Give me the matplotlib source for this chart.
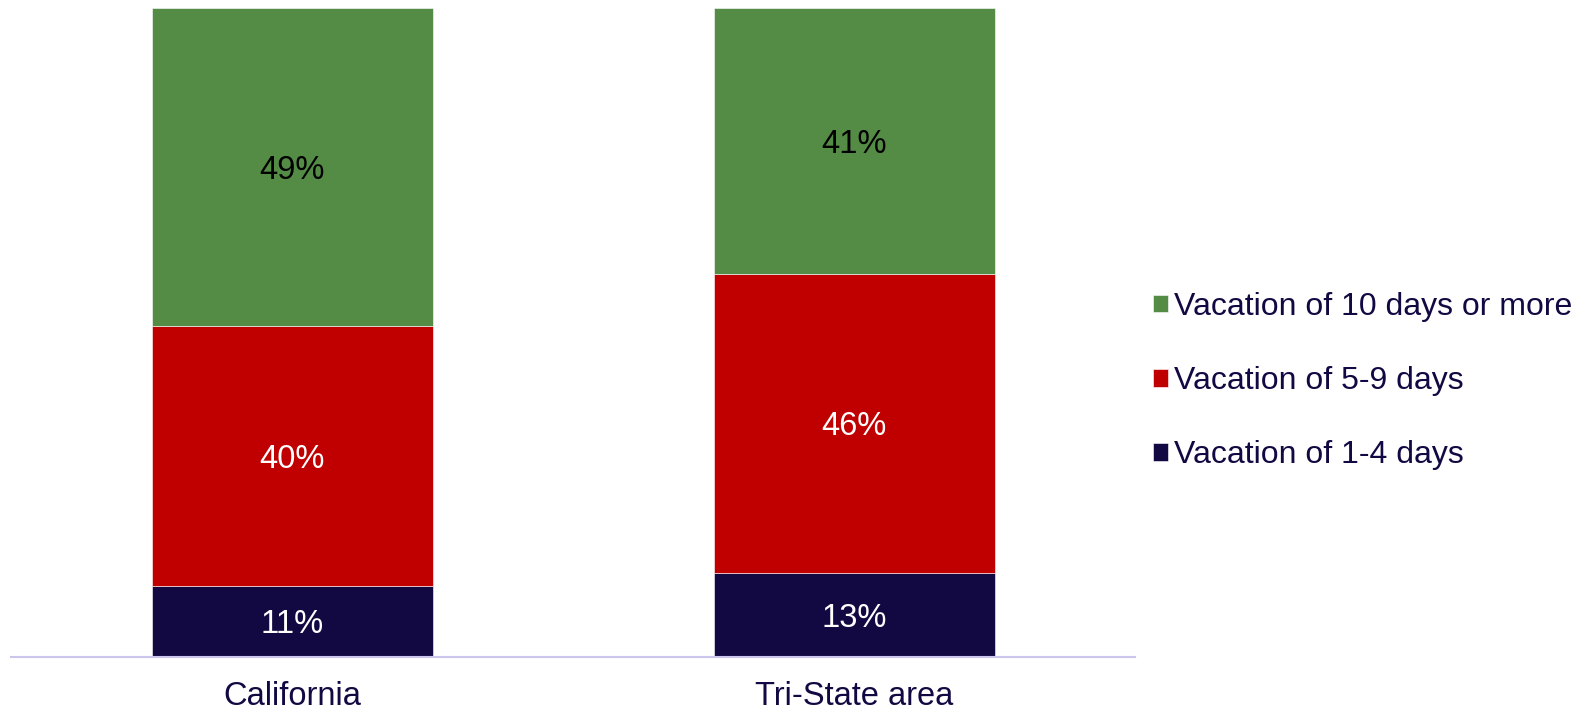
import numpy as np
import matplotlib.pyplot as plt

plt.rcParams['font.family'] = ['Liberation Sans', 'DejaVu Sans']

# ---------------- data ----------------
regions = ["California", "Tri-State area"]
short_trip = [11, 13]    # Vacation of 1-4 days
mid_trip = [40, 46]      # Vacation of 5-9 days
long_trip = [49, 41]     # Vacation of 10 days or more

series = [
    ("Vacation of 1-4 days", short_trip, "#130942", "white"),
    ("Vacation of 5-9 days", mid_trip, "#C00000", "white"),
    ("Vacation of 10 days or more", long_trip, "#548B45", "black"),
]
text_col = "#130942"

fig = plt.figure(figsize=(15.92, 7.10), dpi=100)
W, H = 1592, 710
ax = fig.add_axes([11 / W, 1 - 657 / H, 1124 / W, 649 / H])

x = np.arange(len(regions))
bottom = np.zeros(len(regions))
handles = []
for name, vals, col, tcol in series:
    vals = np.asarray(vals, float)
    b = ax.bar(x, vals, width=0.5, bottom=bottom, color=col, label=name,
               edgecolor="white", linewidth=0.4)
    handles.append(b)
    for xi, v, b0 in zip(x, vals, bottom):
        ax.text(xi, b0 + v / 2, f"{int(v)}%", ha="center", va="center_baseline",
                fontsize=23.5, color=tcol)
    bottom += vals

ax.set_xlim(-0.5, 1.5)
ax.set_ylim(0, 100)
ax.set_xticks(x)
ax.set_xticklabels(regions, fontsize=23.5, color=text_col)
ax.tick_params(axis="x", length=0, pad=17)
ax.set_yticks([])
for s in ["top", "right", "left"]:
    ax.spines[s].set_visible(False)
ax.spines["bottom"].set_color("#CCC6EE")
ax.spines["bottom"].set_linewidth(1.5)

leg = fig.legend(handles[::-1], [s[0] for s in series][::-1],
                 loc="center left", bbox_to_anchor=(1124 / W, 1 - 381 / H),
                 frameon=False, fontsize=23, handlelength=0.48,
                 handleheight=0.48, handletextpad=0.2, labelspacing=1.38)
for t in leg.get_texts():
    t.set_color(text_col)

fig.savefig("out.png", dpi=100)
